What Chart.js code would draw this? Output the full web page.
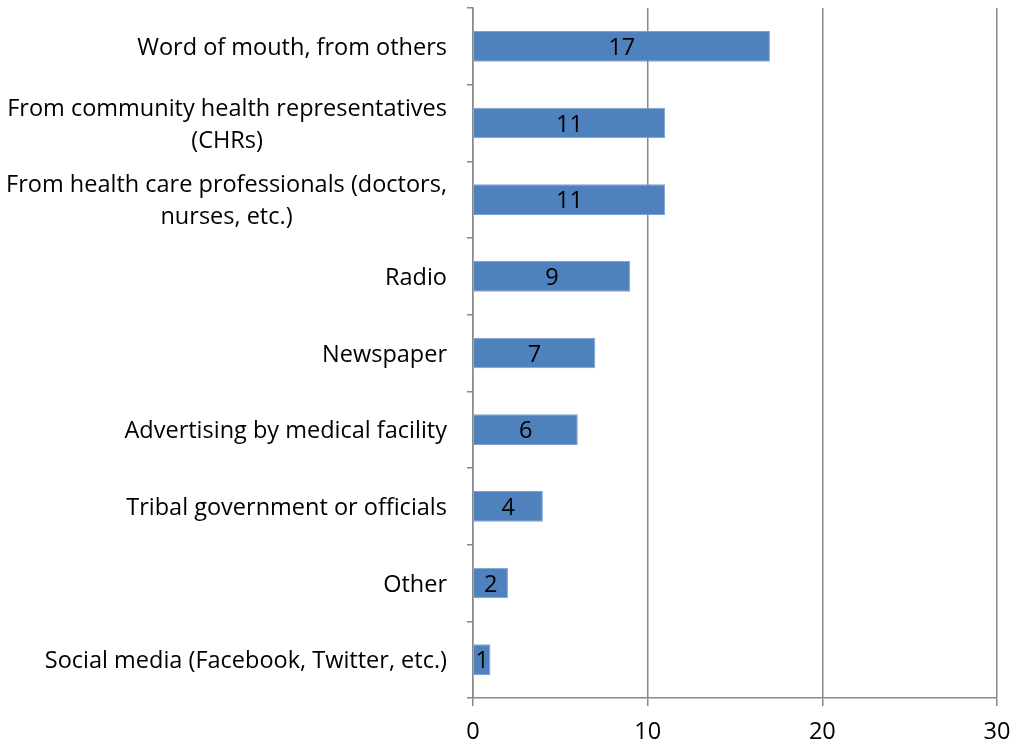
<!DOCTYPE html>
<html>
<head>
<meta charset="utf-8">
<script src="https://cdn.jsdelivr.net/npm/chart.js@4/dist/chart.umd.min.js"></script>
<style>
  html, body { margin: 0; padding: 0; background: #ffffff; }
  #wrap { width: 1026px; height: 745px; }
</style>
</head>
<body>
<div id="wrap"><canvas id="c" width="1026" height="745"></canvas></div>
<script>
// Sources of information (number of responses)
const categories = [
  ['Word of mouth, from others'],
  ['From community health representatives', '(CHRs)'],
  ['From health care professionals (doctors,', 'nurses, etc.)'],
  ['Radio'],
  ['Newspaper'],
  ['Advertising by medical facility'],
  ['Tribal government or officials'],
  ['Other'],
  ['Social media (Facebook, Twitter, etc.)']
];
const responses = [17, 11, 11, 9, 7, 6, 4, 2, 1];
const xTicks = [0, 10, 20, 30];

const FONT = '"Open Sans", "DejaVu Sans", sans-serif';
const LABEL_SIZE = 23.5;
const GRID = '#888888';

// Category labels: right edge at the axis, wrapped lines centred on each other
const categoryLabels = {
  id: 'categoryLabels',
  afterDraw(chart) {
    const ctx = chart.ctx;
    const y = chart.scales.y;
    const right = chart.chartArea.left - 26;
    const lineH = 32;
    ctx.save();
    ctx.font = LABEL_SIZE + 'px ' + FONT;
    ctx.fillStyle = '#000000';
    ctx.textBaseline = 'middle';
    ctx.textAlign = 'center';
    categories.forEach((lines, i) => {
      const cy = y.getPixelForValue(i) + 2;
      const w = Math.max(...lines.map(l => ctx.measureText(l).width));
      const cx = right - w / 2;
      const y0 = cy - (lines.length - 1) * lineH / 2;
      lines.forEach((l, k) => ctx.fillText(l, cx, y0 + k * lineH));
    });
    ctx.restore();
  }
};

// Value printed in the middle of each bar
const barValues = {
  id: 'barValues',
  afterDatasetsDraw(chart) {
    const ctx = chart.ctx;
    const meta = chart.getDatasetMeta(0);
    ctx.save();
    ctx.font = LABEL_SIZE + 'px ' + FONT;
    ctx.fillStyle = '#000000';
    ctx.textAlign = 'center';
    ctx.textBaseline = 'middle';
    meta.data.forEach((bar, i) => {
      const cx = (bar.x + bar.base) / 2;
      ctx.fillText(String(responses[i]), cx, bar.y + 2);
    });
    ctx.restore();
  }
};

new Chart(document.getElementById('c'), {
  type: 'bar',
  data: {
    labels: categories.map(c => c.join(' ')),
    datasets: [{
      data: responses,
      backgroundColor: '#4F81BD',
      borderColor: '#7DA2D2',
      borderWidth: 1,
      barPercentage: 0.4,
      categoryPercentage: 1.0
    }]
  },
  options: {
    indexAxis: 'y',
    responsive: false,
    animation: false,
    layout: { padding: { top: 8, right: 29, left: 0, bottom: 0 } },
    plugins: { legend: { display: false }, tooltip: { enabled: false } },
    scales: {
      x: {
        min: 0,
        max: 30,
        afterBuildTicks(scale) { scale.ticks = xTicks.map(v => ({ value: v })); },
        afterFit(scale) { scale.height = 47; },
        grid: { color: GRID, lineWidth: 1.5, tickLength: 8, drawTicks: true },
        border: { color: GRID, width: 1.5 },
        ticks: {
          color: '#000000',
          font: { family: FONT, size: LABEL_SIZE },
          padding: 12,
          maxRotation: 0
        }
      },
      y: {
        afterFit(scale) { scale.width = 473; },
        grid: {
          offset: true,
          drawOnChartArea: false,
          drawTicks: true,
          tickLength: 6,
          color: GRID,
          lineWidth: 1.5
        },
        border: { color: GRID, width: 1.5 },
        ticks: { display: false }
      }
    }
  },
  plugins: [categoryLabels, barValues]
});
</script>
</body>
</html>
